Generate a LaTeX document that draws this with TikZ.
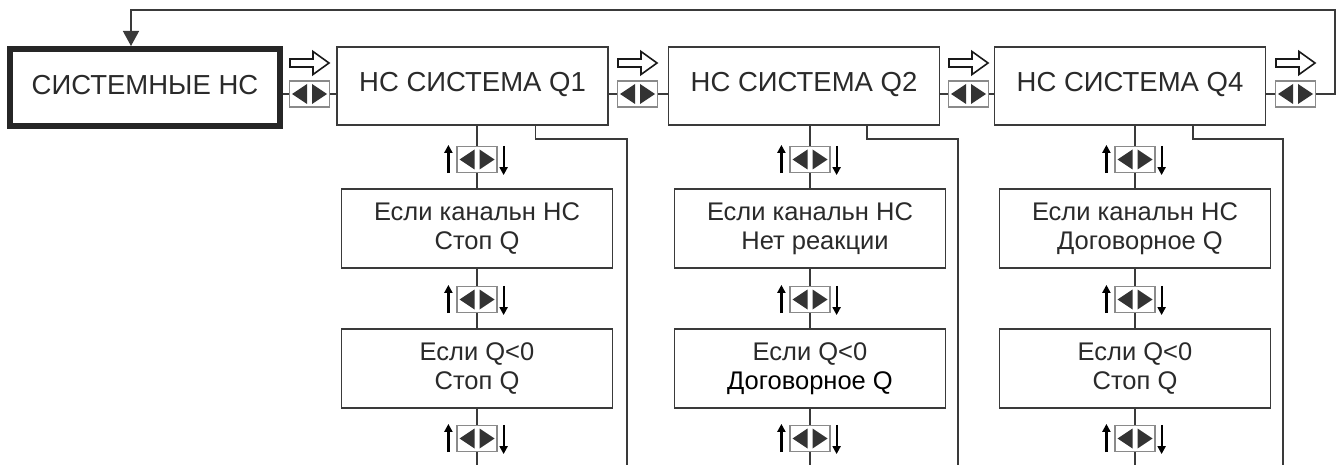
\documentclass[tikz,border=0pt]{standalone}
\usepackage{fontspec}
\setmainfont{Liberation Sans}
\usetikzlibrary{arrows.meta}
\definecolor{ln}{HTML}{3A3A3A}
\definecolor{tx}{HTML}{2A2A2A}
\definecolor{navb}{HTML}{8A8A8A}
\definecolor{tri}{HTML}{333333}
\tikzset{
  conn/.style={draw=ln, line width=1.4pt},
  mainbox/.style={draw=black!85, line width=6pt, minimum width=270pt, minimum height=77pt, inner sep=0pt, text=tx, text height=20pt, text depth=6pt, font=\fontsize{27.5}{30}\selectfont},
  topbox/.style={draw=ln, line width=1.4pt, fill=white, minimum width=271pt, minimum height=78pt, inner sep=0pt, text=tx, text height=20pt, text depth=9pt, font=\fontsize{27.5}{30}\selectfont},
  subbox/.style={draw=ln, line width=1.4pt, fill=white, minimum width=271pt, minimum height=79pt, inner sep=0pt, text=tx, align=center, font=\fontsize{25.5}{29}\selectfont},
  navbox/.style={draw=navb, line width=1.2pt, fill=white, minimum width=40pt, minimum height=26pt, inner sep=0pt,
    path picture={
      \fill[tri] ([xshift=-17.5pt]path picture bounding box.center) -- ++(15,-10) -- ++(0,20) -- cycle;
      \fill[tri] ([xshift=17.5pt]path picture bounding box.center) -- ++(-15,-10) -- ++(0,20) -- cycle;
    }},
  updn/.style={draw=black, line width=2.2pt, -{Triangle[width=8pt,length=8pt]}},
  hollow/.pic={\draw[line width=1.6pt, draw=black!90, fill=white, line join=miter]
     (-19.5,-4) -- (3.5,-4) -- (3.5,-11.5) -- (19.5,0) -- (3.5,11.5) -- (3.5,4) -- (-19.5,4) -- cycle;}
}
\begin{document}
\begin{tikzpicture}[x=1pt,y=-1pt]
\useasboundingbox (0,0) rectangle (1340,465);
% top row
\node[mainbox] (main) at (145,87.5) {СИСТЕМНЫЕ НС};
\node[topbox] (q1) at (472.5,86) {НС СИСТЕМА Q1};
\node[topbox] (q2) at (804,86) {НС СИСТЕМА Q2};
\node[topbox] (q4) at (1130,86) {НС СИСТЕМА Q4};
\node[navbox] (n1) at (309.5,94) {};
\node[navbox] (n2) at (637.5,94) {};
\node[navbox] (n3) at (968.5,94) {};
\node[navbox] (n4) at (1295.5,94) {};
\foreach \n in {n1,n2,n3,n4} {\pic at ([yshift=31pt]\n.center) {hollow};}
\draw[conn] (n1.west) -- (n1.west -| main.east);
\draw[conn] (n1.east) -- (n1.east -| q1.west);
\draw[conn] (n2.west) -- (n2.west -| q1.east);
\draw[conn] (n2.east) -- (n2.east -| q2.west);
\draw[conn] (n3.west) -- (n3.west -| q2.east);
\draw[conn] (n3.east) -- (n3.east -| q4.west);
\draw[conn] (n4.west) -- (n4.west -| q4.east);
% loop back
\coordinate (loopR) at (1335,10);
\coordinate (loopL) at (131,10);
\draw[conn, -{Triangle[width=16pt,length=15pt]}] (n4.east) -| (loopR) -- (loopL) -- (loopL |- main.north);
% columns
\foreach \c/\x/\tb/\ta/\tbb/\rx in {
  1/477/{Если канальн НС\\Стоп Q}/{Если Q<0\\Стоп Q}/q1/627,
  2/810/{Если канальн НС\\\hspace*{10pt}Нет реакции}/{Если Q<0\\\textcolor{black}{Договорное Q}}/q2/958,
  3/1135/{Если канальн НС\\\hspace*{10pt}Договорное Q}/{Если Q<0\\Стоп Q}/q4/1283} {
  \node[navbox] (va\c) at (\x,159.5) {};
  \node[subbox] (ba\c) at (\x,228.5) {\tb};
  \node[navbox] (vb\c) at (\x,299.5) {};
  \node[subbox] (bb\c) at (\x,368.5) {\ta};
  \node[navbox] (vc\c) at (\x,438.5) {};
  \coordinate (bot\c) at (\x,465);
  \draw[conn] (va\c.north) -- (va\c.north |- \tbb.south);
  \draw[conn] (va\c.south) -- (ba\c.north);
  \draw[conn] (ba\c.south) -- (vb\c.north);
  \draw[conn] (vb\c.south) -- (bb\c.north);
  \draw[conn] (bb\c.south) -- (vc\c.north);
  \draw[conn] (vc\c.south) -- (bot\c);
  \foreach \v in {va\c,vb\c,vc\c} {
    \draw[updn] ([xshift=-8pt]\v.south west) -- ([xshift=-8pt,yshift=1pt]\v.north west);
    \draw[updn] ([xshift=6pt]\v.north east) -- ([xshift=6pt,yshift=-2pt]\v.south east);
  }
  \coordinate (rc\c) at (\rx,139);
  \coordinate (re\c) at (\rx,465);
  \draw[conn] ([xshift=63pt]\tbb.south) |- (rc\c) -- (re\c);
}
\end{tikzpicture}
\end{document}
